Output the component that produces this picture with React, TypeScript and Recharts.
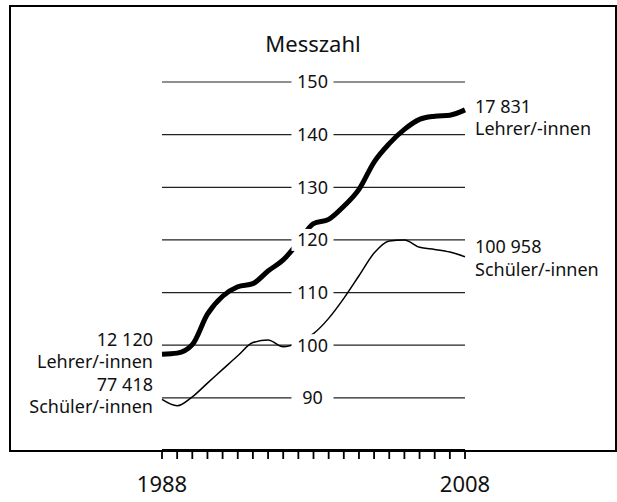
import React from "react";
import { LineChart, Line, XAxis, YAxis, ReferenceLine } from "recharts";

const years = [1988, 1989, 1990, 1991, 1992, 1993, 1994, 1995, 1996, 1997, 1998, 1999, 2000, 2001, 2002, 2003, 2004, 2005, 2006, 2007, 2008];
const lehrer = [98.3, 98.5, 100.1, 105.9, 109.3, 111.1, 111.7, 114.1, 116.2, 119.5, 123.1, 123.9, 126.4, 129.6, 134.8, 138.3, 141.0, 142.9, 143.5, 143.7, 144.7];
const schueler = [89.7, 88.5, 90.2, 92.8, 95.4, 98.0, 100.5, 101.0, 99.7, 100.5, 102.2, 105.1, 108.9, 113.2, 117.5, 119.8, 120.0, 118.6, 118.2, 117.7, 116.8];
const yTicks = [90, 100, 110, 120, 130, 140, 150];
const xLabelYears = [1988, 2008];
const lehrerStart = ["12 120", "Lehrer/-innen"];
const lehrerEnd = ["17 831", "Lehrer/-innen"];
const schuelerStart = ["77 418", "Schüler/-innen"];
const schuelerEnd = ["100 958", "Schüler/-innen"];
const title = "Messzahl";

const data = years.map((y, i) => ({ year: y, lehrer: lehrer[i], schueler: schueler[i] }));

const FONT = "'Noto Sans', 'Open Sans', sans-serif";

const GridLabel = (props: any) => {
  const vb = props.viewBox || {};
  const cx = vb.x + vb.width / 2 - 1;
  const cy = vb.y;
  return (
    <g>
      <rect x={cx - 21} y={cy - 11} width={42} height={22} fill="#fff" />
      <text x={cx} y={cy} dy="0.36em" textAnchor="middle" fontSize={18} fontFamily={FONT} fill="#111">
        {props.v}
      </text>
    </g>
  );
};

const makeEndLabel = (start: string[], end: string[], startOff: number[], endOff: number[]) => (props: any) => {
  const { x, y, index } = props;
  if (index === 0) {
    return (
      <g>
        <text x={x - 9} y={y + startOff[0]} textAnchor="end" fontSize={18} fontFamily={FONT} fill="#111">
          {start[0]}
        </text>
        <text x={x - 9} y={y + startOff[1]} textAnchor="end" fontSize={18} fontFamily={FONT} fill="#111">
          {start[1]}
        </text>
      </g>
    );
  }
  if (index === years.length - 1) {
    return (
      <g>
        <text x={x + 10} y={y + endOff[0]} textAnchor="start" fontSize={18} fontFamily={FONT} fill="#111">
          {end[0]}
        </text>
        <text x={x + 10} y={y + endOff[1]} textAnchor="start" fontSize={18} fontFamily={FONT} fill="#111">
          {end[1]}
        </text>
      </g>
    );
  }
  return <g />;
};

const XTick = (props: any) => {
  const { x, payload } = props;
  const showLabel = xLabelYears.includes(payload.value);
  const axisY = props.axisY;
  return (
    <g>
      <rect x={x - 0.9} y={axisY} width={1.8} height={8.5} fill="#000" />
      {showLabel && (
        <text x={x} y={axisY + 41} textAnchor="middle" fontSize={22} fontFamily={FONT} fill="#111">
          {payload.value}
        </text>
      )}
    </g>
  );
};

const MARGIN = { top: 82, right: 152, left: 162, bottom: 0 };
const X_AXIS_HEIGHT = 51.5;
const CHART_H = 502;

export default function App() {
  const axisY = CHART_H - MARGIN.bottom - X_AXIS_HEIGHT;
  return (
    <div style={{ position: "absolute", left: 0, top: 0, width: 617, height: 502, background: "#fff" }}>
      <div
        style={{
          position: "absolute",
          left: 9,
          top: 5,
          width: 608,
          height: 447,
          border: "2.5px solid #000",
          boxSizing: "border-box",
        }}
      />
      <div
        style={{
          position: "absolute",
          left: 213,
          width: 200,
          top: 28,
          textAlign: "center",
          fontFamily: FONT,
          fontSize: 22,
          lineHeight: "30px",
          color: "#111",
        }}
      >
        {title}
      </div>
      <div style={{ position: "absolute", left: 0, top: 0 }}>
        <LineChart width={617} height={CHART_H} data={data} margin={MARGIN} style={{ overflow: "visible" }}>
          <XAxis
            dataKey="year"
            type="number"
            domain={[1988, 2008]}
            ticks={years}
            interval={0}
            height={X_AXIS_HEIGHT}
            axisLine={{ stroke: "#000", strokeWidth: 3 }}
            tickLine={false}
            tick={<XTick axisY={axisY} />}
          />
          <YAxis hide domain={[80, 150]} ticks={yTicks} type="number" />
          {yTicks.map((t) => (
            <ReferenceLine key={"g" + t} y={t} stroke="#222" strokeWidth={1.2} />
          ))}
          <Line
            dataKey="lehrer"
            stroke="#000"
            strokeWidth={5}
            dot={false}
            type="monotone"
            isAnimationActive={false}
            label={makeEndLabel(lehrerStart, lehrerEnd, [-8, 14], [3, 25])}
          />
          <Line
            dataKey="schueler"
            stroke="#000"
            strokeWidth={1.5}
            dot={false}
            type="monotone"
            isAnimationActive={false}
            label={makeEndLabel(schuelerStart, schuelerEnd, [-8, 14], [-4, 19])}
          />
          {yTicks.map((t) => (
            <ReferenceLine
              key={"l" + t}
              y={t}
              stroke="none"
              label={(p: any) => <GridLabel {...p} v={t} />}
            />
          ))}
        </LineChart>
      </div>
    </div>
  );
}
